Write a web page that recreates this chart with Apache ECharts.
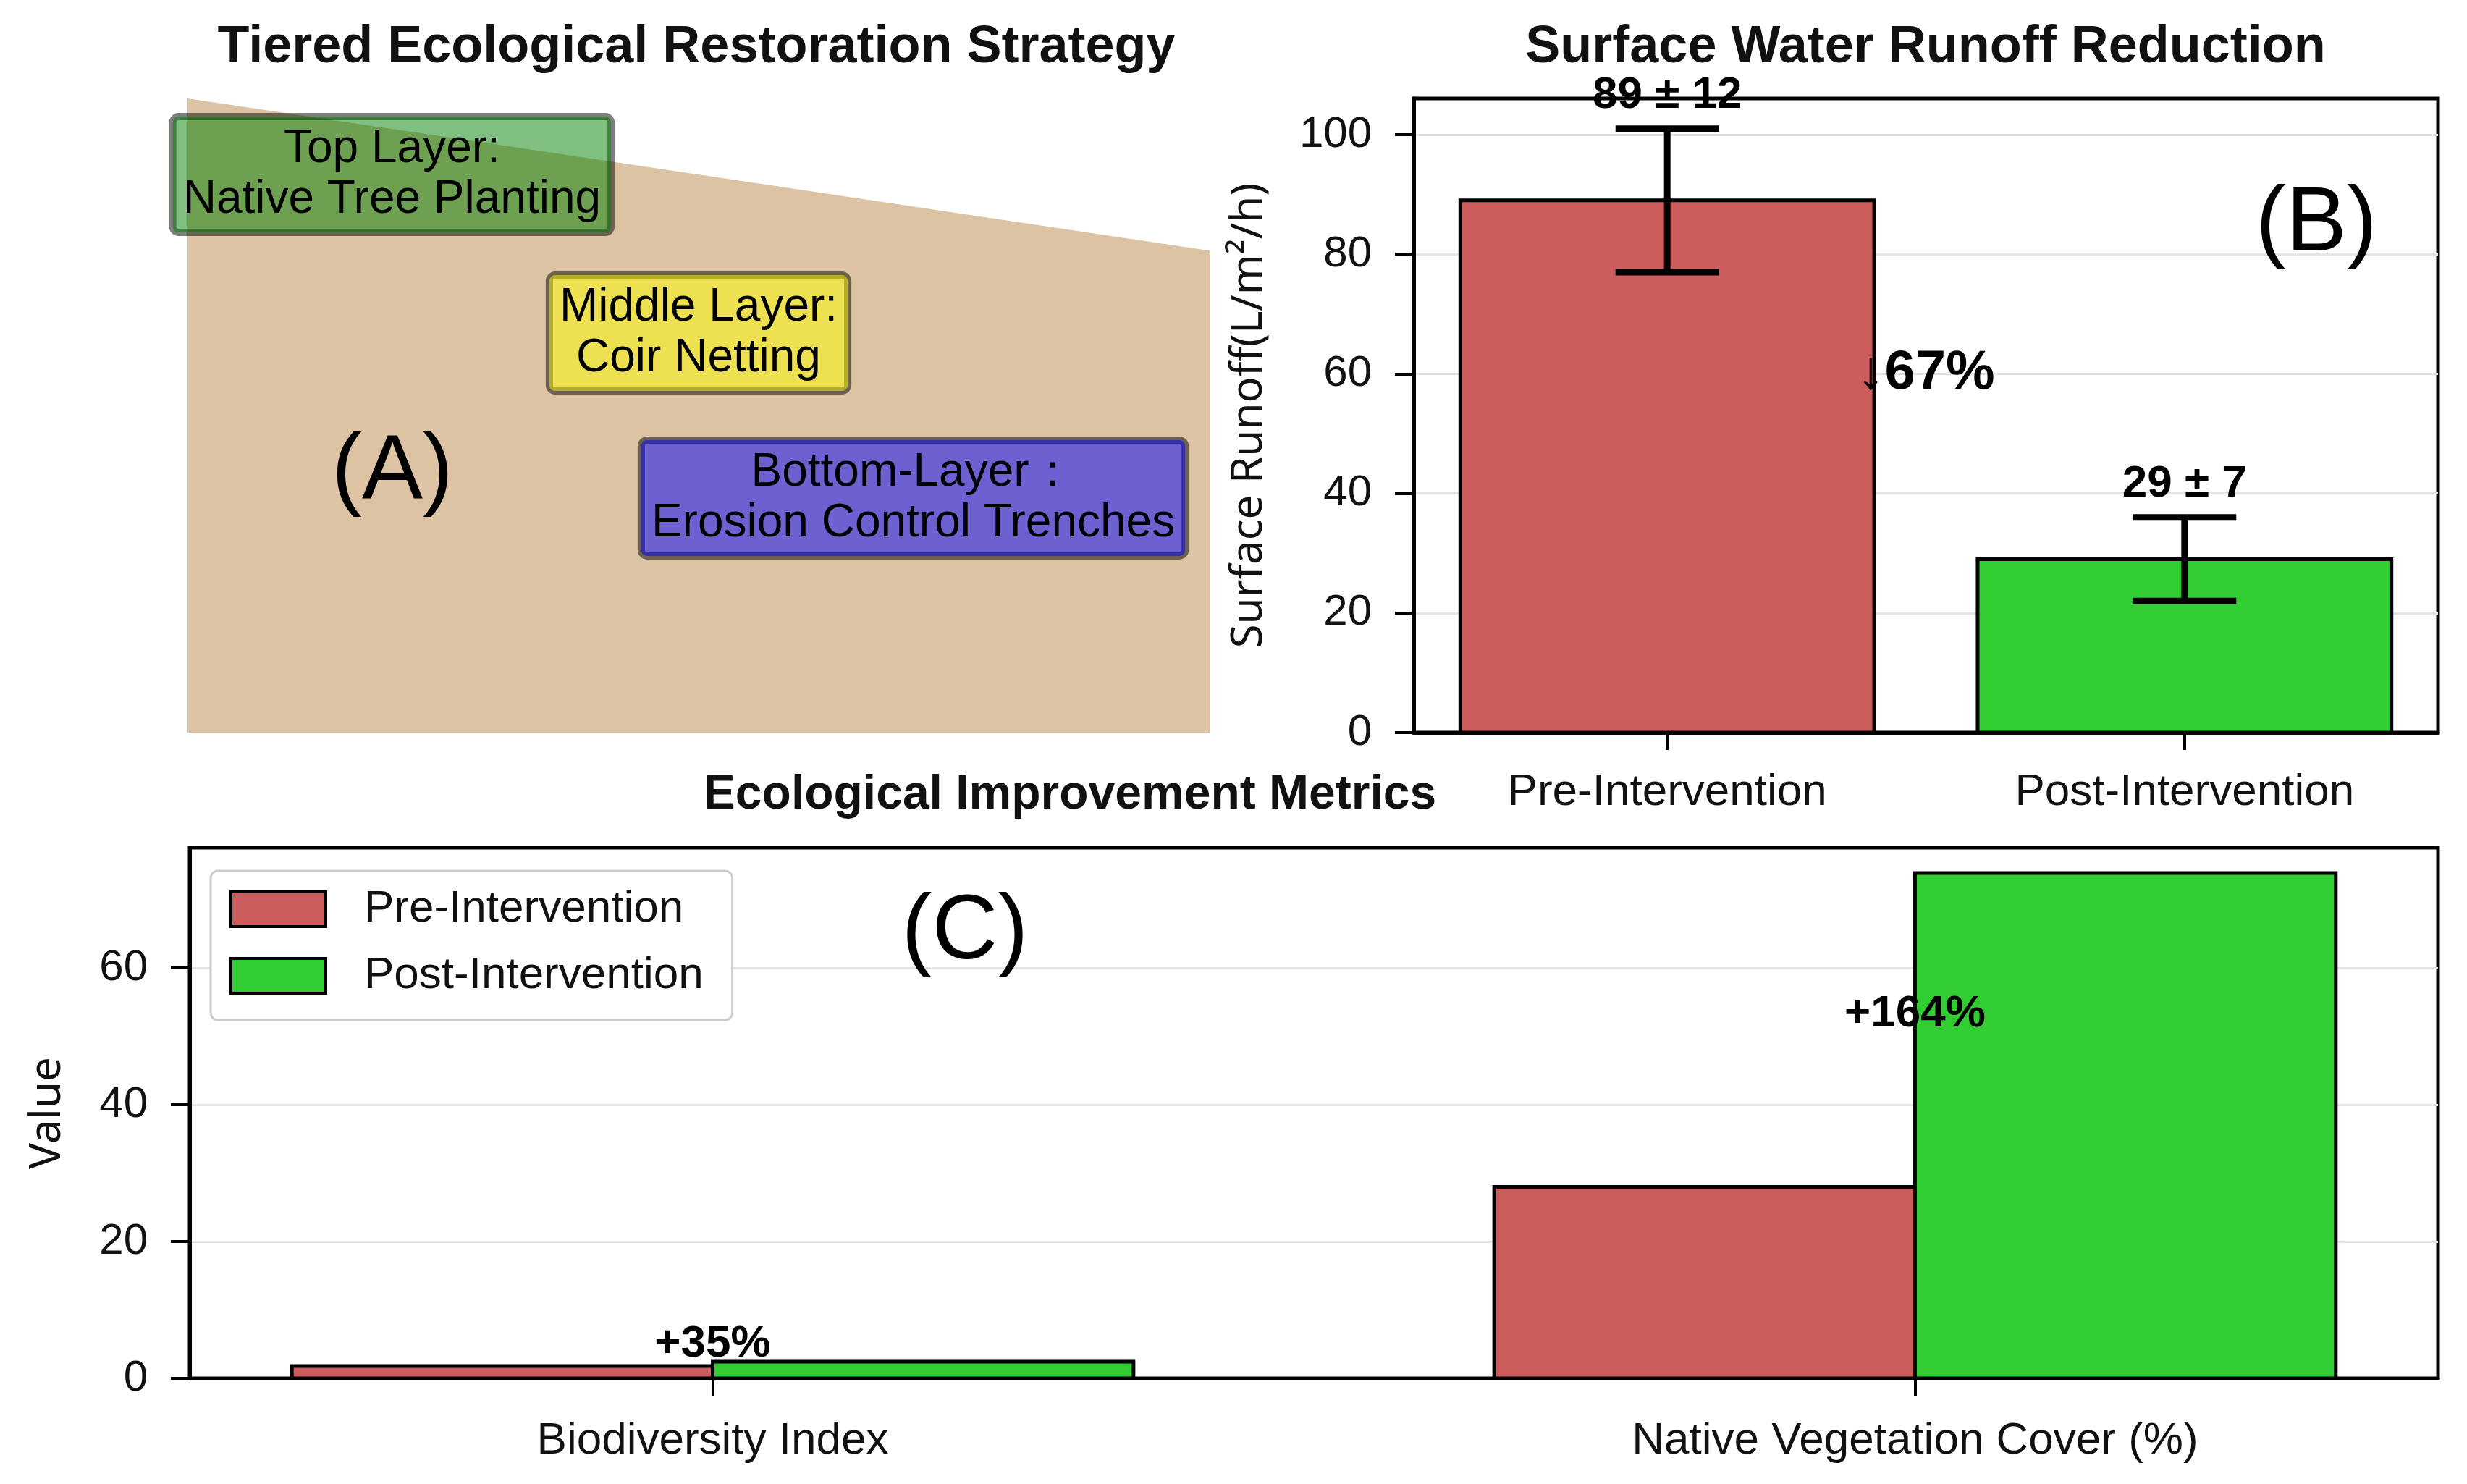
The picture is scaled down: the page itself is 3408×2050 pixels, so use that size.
<!DOCTYPE html>
<html><head><meta charset="utf-8">
<script src="https://cdn.jsdelivr.net/npm/echarts@6/dist/echarts.min.js"></script>
<style>html,body{margin:0;padding:0;background:#fff}#c{width:3408px;height:2050px}</style>
</head><body><div id="c"></div>
<script>
// ---------- data ----------
const runoffCategories = ['Pre-Intervention', 'Post-Intervention'];
const runoffMeans = [89, 29];
const runoffErrors = [12, 7];
const runoffReductionText = '↓67%';
const runoffReductionPos = [0.5, 60];

const metricCategories = ['Biodiversity Index', 'Native Vegetation Cover (%)'];
const preValues = [1.8, 28.0];
const postValues = [2.43, 73.9];
const changeLabels = ['+35%', '+164%'];
const changeLabelY = [5.0, 53.3];

const runoffTicks = [0, 20, 40, 60, 80, 100];
const metricTicks = [0, 20, 40, 60];

const slopeTop = [[0, 10], [10, 7.6]];
const layerLabels = ['Top Layer:\nNative Tree Planting', 'Middle Layer:\nCoir Netting', 'Bottom-Layer：\nErosion Control Trenches'];
const layerX = [2.0, 5.0, 7.1];
const layerY = [8.8, 6.3, 3.7];

// ---------- styles ----------
const RED = '#CD5C5C', GREEN = '#32CD32';
const runoffColors = [RED, GREEN];
const layerFills = ['rgba(0,128,0,0.5)', 'rgba(255,255,0,0.5)', 'rgba(0,0,255,0.5)'];
const FONT = "'Liberation Sans', Arial, sans-serif";
const FONT2 = "'Noto Sans', 'Open Sans', sans-serif";
const BAR_W_B = 0.8, CAP_W = 0.2, BAR_W_C = 0.35;

const chart = echarts.init(document.getElementById('c'), null, {renderer: 'canvas'});

const axisLineStyle = {color: '#000', width: 5};
const gridLineStyle = {color: '#e4e4e4', width: 3};

const option = {
  animation: false,
  backgroundColor: '#fff',
  grid: [
    {left: 259, right: 3408 - 1671, top: 136, bottom: 2050 - 1012},
    {left: 1953, right: 40, top: 136, bottom: 1038, show: true, borderColor: '#000', borderWidth: 5, backgroundColor: 'transparent'},
    {left: 262, right: 40, top: 1171, bottom: 146, show: true, borderColor: '#000', borderWidth: 5, backgroundColor: 'transparent'}
  ],
  xAxis: [
    {gridIndex: 0, type: 'value', min: 0, max: 10, show: false},
    {gridIndex: 1, type: 'value', min: -0.49, max: 1.49,
      axisLine: {show: true, onZero: false, lineStyle: axisLineStyle},
      axisTick: {show: true, customValues: [0, 1], length: 24, lineStyle: {color: '#000', width: 4}},
      axisLabel: {customValues: [0, 1], formatter: v => runoffCategories[Math.round(v)], fontSize: 62, fontFamily: FONT, color: '#111', margin: 52},
      splitLine: {show: false}},
    {gridIndex: 2, type: 'value', min: -0.435, max: 1.435,
      axisLine: {show: true, onZero: false, lineStyle: axisLineStyle},
      axisTick: {show: true, customValues: [0, 1], length: 24, lineStyle: {color: '#000', width: 4}},
      axisLabel: {customValues: [0, 1], formatter: v => metricCategories[Math.round(v)], fontSize: 62, fontFamily: FONT, color: '#111', margin: 56},
      splitLine: {show: false}}
  ],
  yAxis: [
    {gridIndex: 0, type: 'value', min: 0, max: 10, show: false},
    {gridIndex: 1, type: 'value', min: 0, max: 106.05, interval: 20,
      name: 'Surface Runoff(L/m²/h)', nameLocation: 'middle', nameGap: 197, nameRotate: 90,
      nameTextStyle: {fontSize: 60, fontFamily: FONT2, color: '#111'},
      axisLine: {show: true, onZero: false, lineStyle: axisLineStyle},
      axisTick: {show: true, customValues: runoffTicks, length: 26, lineStyle: {color: '#000', width: 4}},
      axisLabel: {customValues: runoffTicks, fontSize: 60, fontFamily: FONT, color: '#111', margin: 58},
      splitLine: {show: true, lineStyle: gridLineStyle}},
    {gridIndex: 2, type: 'value', min: 0, max: 77.6, interval: 20,
      name: 'Value', nameLocation: 'middle', nameGap: 166, nameRotate: 90,
      nameTextStyle: {fontSize: 60, fontFamily: FONT2, color: '#111'},
      axisLine: {show: true, onZero: false, lineStyle: axisLineStyle},
      axisTick: {show: true, customValues: metricTicks, length: 26, lineStyle: {color: '#000', width: 4}},
      axisLabel: {customValues: metricTicks, fontSize: 60, fontFamily: FONT, color: '#111', margin: 58},
      splitLine: {show: true, lineStyle: gridLineStyle}}
  ],
  legend: {
    data: ['Pre-Intervention', 'Post-Intervention'],
    orient: 'vertical', left: 291, top: 1203,
    padding: [22, 40, 30, 26],
    itemWidth: 131, itemHeight: 48, itemGap: 30, icon: 'rect',
    itemStyle: {borderColor: '#000', borderWidth: 4},
    textStyle: {fontSize: 62, fontFamily: FONT, color: '#111', padding: [0, 0, 0, 48]},
    backgroundColor: '#fff', borderColor: '#cccccc', borderWidth: 3, borderRadius: 10,
    selectedMode: false
  },
  graphic: [
    {type: 'text', x: 962, y: 66, style: {text: 'Tiered Ecological Restoration Strategy', fontSize: 72, fontWeight: 'bold', fontFamily: FONT, fill: '#111', align: 'center', verticalAlign: 'middle'}},
    {type: 'text', x: 2660, y: 66, style: {text: 'Surface Water Runoff Reduction', fontSize: 72, fontWeight: 'bold', fontFamily: FONT, fill: '#111', align: 'center', verticalAlign: 'middle'}},
    {type: 'text', x: 1478, y: 1099, style: {text: 'Ecological Improvement Metrics', fontSize: 66, fontWeight: 'bold', fontFamily: FONT, fill: '#111', align: 'center', verticalAlign: 'middle'}},
    {type: 'text', x: 542, y: 653, z: 10, style: {text: '(A)', fontSize: 126, fontFamily: FONT, fill: '#000', align: 'center', verticalAlign: 'middle'}},
    {type: 'text', x: 3200, y: 311, z: 10, style: {text: '(B)', fontSize: 126, fontFamily: FONT, fill: '#000', align: 'center', verticalAlign: 'middle'}},
    {type: 'text', x: 1333, y: 1289, z: 10, style: {text: '(C)', fontSize: 126, fontFamily: FONT, fill: '#000', align: 'center', verticalAlign: 'middle'}}
  ],
  series: [
    // Panel A: slope
    {type: 'line', xAxisIndex: 0, yAxisIndex: 0, data: slopeTop, symbol: 'none',
      lineStyle: {width: 0}, areaStyle: {color: 'rgba(210,180,140,0.8)', opacity: 1}, silent: true},
    // Panel A: layer boxes
    {type: 'custom', xAxisIndex: 0, yAxisIndex: 0, z: 5,
      data: layerX.map((x, i) => [x, layerY[i], i]),
      renderItem: (params, api) => {
        const p = api.coord([api.value(0), api.value(1)]);
        const i = api.value(2);
        return {type: 'text', x: p[0], y: p[1], style: {
          text: layerLabels[i], fontSize: 64, lineHeight: 70, fontFamily: FONT, fill: '#000',
          align: 'center', verticalAlign: 'middle',
          backgroundColor: layerFills[i], borderColor: 'rgba(0,0,0,0.5)', borderWidth: 5, borderRadius: 8,
          padding: [10, 14]
        }};
      }},
    // Panel B: bars
    {type: 'custom', xAxisIndex: 1, yAxisIndex: 1, z: 2,
      data: runoffMeans.map((v, i) => [i, v]),
      renderItem: (params, api) => {
        const x = api.value(0), v = api.value(1);
        const a = api.coord([x - BAR_W_B / 2, v]), b = api.coord([x + BAR_W_B / 2, 0]);
        return {type: 'rect', shape: {x: a[0], y: a[1], width: b[0] - a[0], height: b[1] - a[1]},
          style: {fill: runoffColors[params.dataIndex], stroke: '#000', lineWidth: 5}};
      }},
    // Panel B: error bars
    {type: 'custom', xAxisIndex: 1, yAxisIndex: 1, z: 3,
      data: runoffMeans.map((v, i) => [i, v, runoffErrors[i]]),
      renderItem: (params, api) => {
        const x = api.value(0), m = api.value(1), e = api.value(2);
        const lo = api.coord([x, m - e]), hi = api.coord([x, m + e]);
        const cl = api.coord([x - CAP_W / 2, m]), cr = api.coord([x + CAP_W / 2, m]);
        const st = {stroke: '#000', lineWidth: 9};
        return {type: 'group', children: [
          {type: 'line', shape: {x1: lo[0], y1: lo[1], x2: hi[0], y2: hi[1]}, style: st},
          {type: 'line', shape: {x1: cl[0], y1: lo[1], x2: cr[0], y2: lo[1]}, style: st},
          {type: 'line', shape: {x1: cl[0], y1: hi[1], x2: cr[0], y2: hi[1]}, style: st}
        ]};
      }},
    // Panel B: value labels
    {type: 'custom', xAxisIndex: 1, yAxisIndex: 1, z: 4,
      data: runoffMeans.map((v, i) => [i, v, runoffErrors[i]]),
      renderItem: (params, api) => {
        const x = api.value(0), m = api.value(1), e = api.value(2);
        const p = api.coord([x, m + e + 3]);
        return {type: 'text', x: p[0], y: p[1] + 10, style: {text: m + ' ± ' + e, fontSize: 62, fontWeight: 'bold', fontFamily: FONT, fill: '#000', align: 'center', verticalAlign: 'bottom'}};
      }},
    // Panel B: reduction label
    {type: 'custom', xAxisIndex: 1, yAxisIndex: 1, z: 4,
      data: [runoffReductionPos],
      renderItem: (params, api) => {
        const p = api.coord([api.value(0), api.value(1)]);
        return {type: 'text', x: p[0], y: p[1], style: {text: runoffReductionText, fontSize: 76, fontWeight: 'bold', fontFamily: FONT, fill: '#000', align: 'center', verticalAlign: 'middle'}};
      }},
    // Panel C: pre bars
    {name: 'Pre-Intervention', type: 'custom', xAxisIndex: 2, yAxisIndex: 2, z: 2,
      itemStyle: {color: RED},
      data: preValues.map((v, i) => [i, v]),
      renderItem: (params, api) => {
        const x = api.value(0), v = api.value(1);
        const a = api.coord([x - BAR_W_C, v]), b = api.coord([x, 0]);
        return {type: 'rect', shape: {x: a[0], y: a[1], width: b[0] - a[0], height: b[1] - a[1]},
          style: {fill: api.visual('color'), stroke: '#000', lineWidth: 5}};
      }},
    // Panel C: post bars
    {name: 'Post-Intervention', type: 'custom', xAxisIndex: 2, yAxisIndex: 2, z: 2,
      itemStyle: {color: GREEN},
      data: postValues.map((v, i) => [i, v]),
      renderItem: (params, api) => {
        const x = api.value(0), v = api.value(1);
        const a = api.coord([x, v]), b = api.coord([x + BAR_W_C, 0]);
        return {type: 'rect', shape: {x: a[0], y: a[1], width: b[0] - a[0], height: b[1] - a[1]},
          style: {fill: api.visual('color'), stroke: '#000', lineWidth: 5}};
      }},
    // Panel C: change labels
    {type: 'custom', xAxisIndex: 2, yAxisIndex: 2, z: 4,
      data: changeLabelY.map((y, i) => [i, y]),
      renderItem: (params, api) => {
        const p = api.coord([api.value(0), api.value(1)]);
        return {type: 'text', x: p[0], y: p[1], style: {text: changeLabels[params.dataIndex], fontSize: 62, fontWeight: 'bold', fontFamily: FONT, fill: '#000', align: 'center', verticalAlign: 'middle'}};
      }}
  ]
};
chart.setOption(option);
</script></body></html>
